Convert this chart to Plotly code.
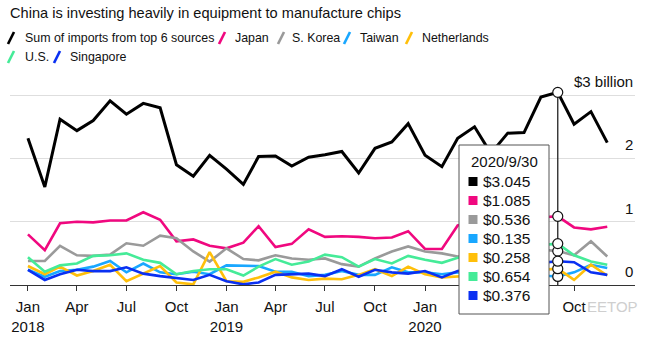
import pandas as pd
import plotly.graph_objects as go

# Monthly chip-equipment imports into China, $ billion (Jan 2018 - Dec 2020)
months = [f"{y}-{m:02d}-01" for y in (2018, 2019, 2020) for m in range(1, 13)]

total = [2.32, 1.55, 2.62, 2.44, 2.60, 2.91, 2.70, 2.87, 2.80, 1.90, 1.72, 2.05,
         1.83, 1.59, 2.03, 2.04, 1.88, 2.02, 2.06, 2.11, 1.77, 2.16, 2.26, 2.55,
         2.05, 1.87, 2.32, 2.50, 2.08, 2.40, 2.41, 2.97, 3.045, 2.54, 2.74, 2.25]
japan = [0.80, 0.55, 0.975, 1.00, 0.99, 1.02, 1.02, 1.15, 1.03, 0.69, 0.72, 0.62,
         0.58, 0.67, 0.93, 0.60, 0.65, 0.88, 0.76, 0.77, 0.76, 0.74, 0.75, 0.85,
         0.57, 0.57, 0.94, 1.00, 0.95, 1.05, 1.02, 1.07, 1.085, 0.91, 0.88, 0.92]
s_korea = [0.38, 0.38, 0.62, 0.47, 0.46, 0.48, 0.66, 0.62, 0.78, 0.74, 0.53, 0.37,
           0.58, 0.41, 0.39, 0.47, 0.42, 0.40, 0.42, 0.33, 0.29, 0.42, 0.53, 0.61,
           0.53, 0.50, 0.45, 0.47, 0.50, 0.55, 0.55, 0.56, 0.536, 0.47, 0.69, 0.45]
taiwan = [0.24, 0.13, 0.22, 0.24, 0.29, 0.38, 0.20, 0.34, 0.20, 0.17, 0.21, 0.17,
          0.31, 0.30, 0.30, 0.21, 0.21, 0.14, 0.16, 0.22, 0.16, 0.16, 0.28, 0.20,
          0.20, 0.17, 0.20, 0.20, 0.19, 0.18, 0.16, 0.15, 0.135, 0.20, 0.32, 0.27]
netherlands = [0.30, 0.17, 0.29, 0.15, 0.22, 0.32, 0.06, 0.18, 0.30, 0.04, 0.01, 0.52,
               0.06, 0.05, 0.12, 0.21, 0.12, 0.08, 0.10, 0.09, 0.16, 0.25, 0.14, 0.29,
               0.17, 0.12, 0.13, 0.15, 0.18, 0.20, 0.22, 0.24, 0.258, 0.08, 0.32, 0.15]
us = [0.44, 0.21, 0.31, 0.34, 0.46, 0.47, 0.50, 0.40, 0.35, 0.17, 0.22, 0.25,
      0.25, 0.15, 0.29, 0.41, 0.32, 0.37, 0.48, 0.44, 0.29, 0.41, 0.34, 0.46,
      0.40, 0.35, 0.43, 0.45, 0.50, 0.55, 0.60, 0.63, 0.654, 0.47, 0.37, 0.32]
singapore = [0.24, 0.08, 0.17, 0.24, 0.22, 0.22, 0.28, 0.18, 0.14, 0.11, 0.08, 0.16,
             0.06, 0.01, 0.04, 0.16, 0.17, 0.18, 0.14, 0.25, 0.13, 0.24, 0.20, 0.18,
             0.22, 0.12, 0.22, 0.25, 0.28, 0.30, 0.33, 0.35, 0.376, 0.36, 0.20, 0.16]

series_names = ["Sum of imports from top 6 sources", "Japan", "S. Korea", "Taiwan",
                "Netherlands", "U.S.", "Singapore"]
series_values = [total, japan, s_korea, taiwan, netherlands, us, singapore]
series_colors = ["#000000", "#f0087f", "#9a9a9a", "#19a7ff", "#ffbf0a", "#45eb98", "#0a30f2"]
series_widths = [3, 2.6, 2.6, 2.6, 2.6, 2.6, 2.6]

# quarterly ticks; Apr/Jul 2020 sit under the hover box, so they carry no label
tick_vals = [f"{y}-{m:02d}-01" for y in (2018, 2019, 2020) for m in (1, 4, 7, 10)]
tick_text = ["Jan<br>2018", "Apr", "Jul", "Oct", "Jan<br>2019", "Apr", "Jul", "Oct",
             "Jan<br>2020", "", "", "Oct"]
y_ticks = [0, 1, 2, 3]
y_labels = ["0", "1", "2", "$3 billion"]

highlight = 32  # September 2020

FONT = "Liberation Sans, Arial, sans-serif"

# plot-area geometry in pixels
W, H = 650, 337
L, R, T, B = 10, 635, 80, 285


def px(x):
    return (x - L) / (R - L)


def py(y):
    return (B - y) / (B - T)


fig = go.Figure()

for name, vals, color, width in zip(series_names, series_values, series_colors, series_widths):
    fig.add_trace(go.Scatter(x=months, y=vals, mode="lines", name=name,
                             line=dict(color=color, width=width), hoverinfo="skip"))

# hover guide line and point markers for the highlighted month
fig.add_trace(go.Scatter(x=[months[highlight], months[highlight]], y=[0, total[highlight]],
                         mode="lines", line=dict(color="#222222", width=1.3),
                         hoverinfo="skip"))
fig.add_trace(go.Scatter(x=[months[highlight]] * len(series_values),
                         y=[v[highlight] for v in series_values], mode="markers",
                         marker=dict(size=10, color="white", line=dict(color="#111111", width=1.2)),
                         cliponaxis=False, hoverinfo="skip"))

shapes = []
annotations = []

# title
annotations.append(dict(text="China is investing heavily in equipment to manufacture chips",
                        xref="paper", yref="paper", x=px(8), y=py(13), xanchor="left",
                        yanchor="middle", showarrow=False,
                        font=dict(family=FONT, size=14.6, color="#111111")))

# legend: coloured slash + label
legend_pos = [(11, 38, 23), (222, 38, 233), (281, 38, 290), (347, 38, 358),
              (409, 38, 420), (11, 57, 23), (57, 57, 68)]
for (sx, sy, tx), name, color in zip(legend_pos, series_names, series_colors):
    shapes.append(dict(type="line", xref="paper", yref="paper", xsizemode="pixel",
                       ysizemode="pixel", xanchor=px(sx), yanchor=py(sy),
                       x0=-3, x1=3, y0=-6, y1=6, line=dict(color=color, width=2.6)))
    annotations.append(dict(text=name, xref="paper", yref="paper", x=px(tx), y=py(sy),
                            xanchor="left", yanchor="middle", showarrow=False,
                            font=dict(family=FONT, size=12.4, color="#111111")))

# right-hand value labels sitting on the gridlines
for val, lab in zip(y_ticks, y_labels):
    annotations.append(dict(text=lab, xref="paper", yref="y", x=1.0, y=val, xanchor="right",
                            yanchor="bottom", yshift=3, showarrow=False,
                            font=dict(family=FONT, size=15, color="#111111")))

# tooltip box
shapes.append(dict(type="rect", xref="paper", yref="paper", x0=px(459), x1=px(549),
                   y0=py(314), y1=py(145), fillcolor="white",
                   line=dict(color="#555555", width=1), layer="above"))
end_of_month = (pd.Timestamp(months[highlight]) + pd.offsets.MonthEnd(0))
date_label = f"{end_of_month.year}/{end_of_month.month}/{end_of_month.day}"
annotations.append(dict(text=date_label, xref="paper", yref="paper", x=px(504), y=py(161),
                        xanchor="center", yanchor="middle", showarrow=False,
                        font=dict(family=FONT, size=15, color="#111111")))
row_y = [181.5, 200.5, 219.5, 238.5, 257.5, 276.5, 295.5]
for ry, vals, color in zip(row_y, series_values, series_colors):
    shapes.append(dict(type="rect", xref="paper", yref="paper", xsizemode="pixel",
                       ysizemode="pixel", xanchor=px(473), yanchor=py(ry),
                       x0=-4.5, x1=4.5, y0=-4.5, y1=4.5, fillcolor=color,
                       line=dict(width=0), layer="above"))
    annotations.append(dict(text=f"${vals[highlight]:.3f}", xref="paper", yref="paper",
                            x=px(481), y=py(ry), xanchor="left", yanchor="middle",
                            showarrow=False,
                            font=dict(family=FONT, size=15.5, color="#111111")))

# faint watermark
annotations.append(dict(text="EETOP", xref="paper", yref="paper", x=px(612), y=py(306),
                        xanchor="center", yanchor="middle", showarrow=False,
                        font=dict(family=FONT, size=15, color="#cfcfcf")))

fig.update_layout(
    width=W, height=H,
    margin=dict(l=L, r=W - R, t=T, b=H - B, pad=0, autoexpand=False),
    plot_bgcolor="white", paper_bgcolor="white",
    showlegend=False,
    xaxis=dict(type="date", range=["2017-11-29", "2021-01-21"], tickmode="array",
               tickvals=tick_vals, ticktext=tick_text, ticks="outside", ticklen=5,
               tickwidth=1.2, tickcolor="#333333", showline=True, linecolor="#333333",
               linewidth=1.3, showgrid=False, zeroline=False, fixedrange=True,
               ticklabelstandoff=3,
               tickfont=dict(family=FONT, size=15, color="#111111")),
    yaxis=dict(range=[0, 3.24], tickmode="array", tickvals=[1, 2, 3],
               showticklabels=False, showgrid=True, gridcolor="#dedede", gridwidth=1,
               zeroline=False, showline=False, fixedrange=True),
    shapes=shapes,
    annotations=annotations,
)

fig.write_html("out.html", config={"displayModeBar": False})
